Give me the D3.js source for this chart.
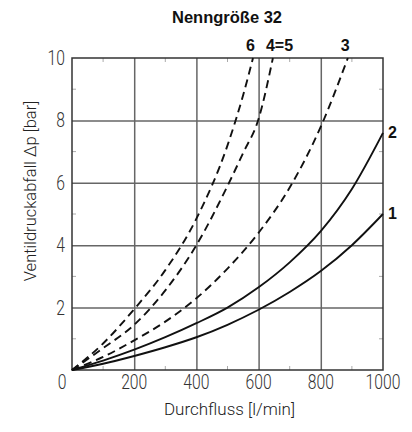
<!DOCTYPE html>
<html>
<head>
<meta charset="utf-8">
<script src="https://cdn.jsdelivr.net/npm/d3@7"></script>
<style>
body { margin: 0; background: #fff; }
svg text { font-family: "Liberation Sans", Arial, sans-serif; }
</style>
</head>
<body>
<div id="chart"></div>
<script>
var title = "Nenngröße 32";
var xLabel = "Durchfluss [l/min]";
var yLabel = "Ventildruckabfall \u0394p [bar]";
var xTicks = [200, 400, 600, 800, 1000];
var yTicks = [2, 4, 6, 8, 10];

// durchfluss / druckabfall
var flow1 = [0, 100, 200, 300, 400, 500, 600, 700, 800, 900, 1000];
var dp1 = [0, 0.2, 0.45, 0.73, 1.05, 1.45, 1.93, 2.5, 3.17, 4.0, 5.0];
var flow2 = [0, 100, 200, 300, 400, 500, 600, 700, 800, 900, 1000];
var dp2 = [0, 0.3, 0.65, 1.05, 1.5, 2.0, 2.65, 3.45, 4.45, 5.8, 7.6];
var flow3 = [0, 100, 200, 300, 400, 500, 600, 700, 800, 887];
var dp3 = [0, 0.42, 0.95, 1.55, 2.3, 3.25, 4.4, 5.85, 7.8, 10];
var flow45 = [0, 100, 200, 300, 400, 500, 550, 600, 646];
var dp45 = [0, 0.7, 1.45, 2.55, 4.0, 5.9, 6.95, 8.05, 10];
var flow6 = [0, 100, 200, 300, 400, 500, 550, 582];
var dp6 = [0, 0.85, 1.95, 3.2, 4.85, 7.2, 8.8, 10];

var series = [
	{name: "1", flow: flow1, dp: dp1, dashed: false, pos: "right"},
	{name: "2", flow: flow2, dp: dp2, dashed: false, pos: "right"},
	{name: "3", flow: flow3, dp: dp3, dashed: true, pos: "top"},
	{name: "4=5", flow: flow45, dp: dp45, dashed: true, pos: "top"},
	{name: "6", flow: flow6, dp: dp6, dashed: true, pos: "top"}
];

var width = 412, height = 432;
var pLeft = 72, pRight = 383, pTop = 58, pBottom = 370;

var x = d3.scaleLinear().domain([0, 1000]).range([pLeft, pRight]);
var y = d3.scaleLinear().domain([0, 10]).range([pBottom, pTop]);

var svg = d3.select("#chart").append("svg")
	.attr("width", width)
	.attr("height", height);

// feine Teilstriche
var minorX = d3.range(100, 1000, 200);
var minorY = d3.range(1, 10, 2);
svg.selectAll(".mxb").data(minorX).enter().append("line")
	.attr("x1", d => x(d)).attr("x2", d => x(d))
	.attr("y1", pBottom).attr("y2", pBottom - 4)
	.attr("stroke", "#aaa").attr("stroke-width", 1);
svg.selectAll(".mxt").data(minorX).enter().append("line")
	.attr("x1", d => x(d)).attr("x2", d => x(d))
	.attr("y1", pTop).attr("y2", pTop + 4)
	.attr("stroke", "#aaa").attr("stroke-width", 1);
svg.selectAll(".myl").data(minorY).enter().append("line")
	.attr("x1", pLeft).attr("x2", pLeft + 4)
	.attr("y1", d => y(d)).attr("y2", d => y(d))
	.attr("stroke", "#aaa").attr("stroke-width", 1);
svg.selectAll(".myr").data(minorY).enter().append("line")
	.attr("x1", pRight).attr("x2", pRight - 4)
	.attr("y1", d => y(d)).attr("y2", d => y(d))
	.attr("stroke", "#aaa").attr("stroke-width", 1);

// gitter
svg.append("g")
	.attr("transform", "translate(0," + pBottom + ")")
	.call(d3.axisBottom(x).tickValues([200, 400, 600, 800]).tickSize(-(pBottom - pTop)).tickFormat(""))
	.call(g => g.select(".domain").remove())
	.call(g => g.selectAll("line").attr("stroke", "#666").attr("stroke-width", 1.5));
svg.append("g")
	.attr("transform", "translate(" + pLeft + ",0)")
	.call(d3.axisLeft(y).tickValues([2, 4, 6, 8]).tickSize(-(pRight - pLeft)).tickFormat(""))
	.call(g => g.select(".domain").remove())
	.call(g => g.selectAll("line").attr("stroke", "#666").attr("stroke-width", 1.5));

svg.append("rect")
	.attr("x", pLeft).attr("y", pTop)
	.attr("width", pRight - pLeft).attr("height", pBottom - pTop)
	.attr("fill", "none").attr("stroke", "#333").attr("stroke-width", 1.5);

// beschriftung achsen (schmale, duenne ziffern)
function tickText(sel){
	sel.style("font-family", "Roboto, sans-serif")
		.style("font-weight", 300)
		.style("font-size", "20px")
		.attr("fill", "#333")
		.attr("lengthAdjust", "spacingAndGlyphs")
		.attr("textLength", d => String(d).length * 8.7);
}
svg.selectAll(".xt").data(xTicks).enter().append("text")
	.attr("x", d => x(d)).attr("y", pBottom + 19)
	.attr("text-anchor", "middle")
	.text(d => d)
	.call(tickText);
svg.selectAll(".yt").data(yTicks).enter().append("text")
	.attr("x", pLeft - 7).attr("y", d => y(d) + 7)
	.attr("text-anchor", "end")
	.text(d => d)
	.call(tickText);
svg.selectAll(".zero").data([0]).enter().append("text")
	.attr("x", pLeft - 10).attr("y", pBottom + 19)
	.attr("text-anchor", "middle")
	.text(d => d)
	.call(tickText);

svg.append("text")
	.attr("x", (pLeft + pRight) / 2 + 2).attr("y", 415)
	.attr("text-anchor", "middle")
	.style("font-family", "Roboto, sans-serif").style("font-weight", 300).style("font-size", "17px")
	.attr("fill", "#222")
	.text(xLabel);
svg.append("text")
	.attr("transform", "translate(36," + 191 + ") rotate(-90)")
	.attr("text-anchor", "middle")
	.style("font-family", "Roboto, sans-serif").style("font-weight", 300).style("font-size", "16.5px")
	.attr("fill", "#222")
	.text(yLabel);

svg.append("text")
	.attr("x", 227).attr("y", 23)
	.attr("text-anchor", "middle")
	.style("font-weight", "bold").style("font-size", "16.5px")
	.attr("fill", "#111")
	.text(title);

// kennlinien
var line = d3.line()
	.x(d => x(d[0]))
	.y(d => y(d[1]))
	.curve(d3.curveMonotoneX);

series.forEach(function(s){
	var pts = s.flow.map((f, i) => [f, s.dp[i]]);
	svg.append("path")
		.attr("d", line(pts))
		.attr("fill", "none")
		.attr("stroke", "#111")
		.attr("stroke-width", 1.9)
		.attr("stroke-dasharray", s.dashed ? "8,5" : null);
	var last = pts[pts.length - 1];
	var lbl = svg.append("text")
		.style("font-weight", "bold").style("font-size", "16px")
		.attr("fill", "#111")
		.text(s.name);
	if(s.pos == "top"){
		lbl.attr("x", x(last[0]) - 7).attr("y", y(last[1]) - 7).attr("text-anchor", "start");
	} else {
		lbl.attr("x", x(last[0]) + 5).attr("y", y(last[1]) + 5).attr("text-anchor", "start");
	}
});
</script>
</body>
</html>
